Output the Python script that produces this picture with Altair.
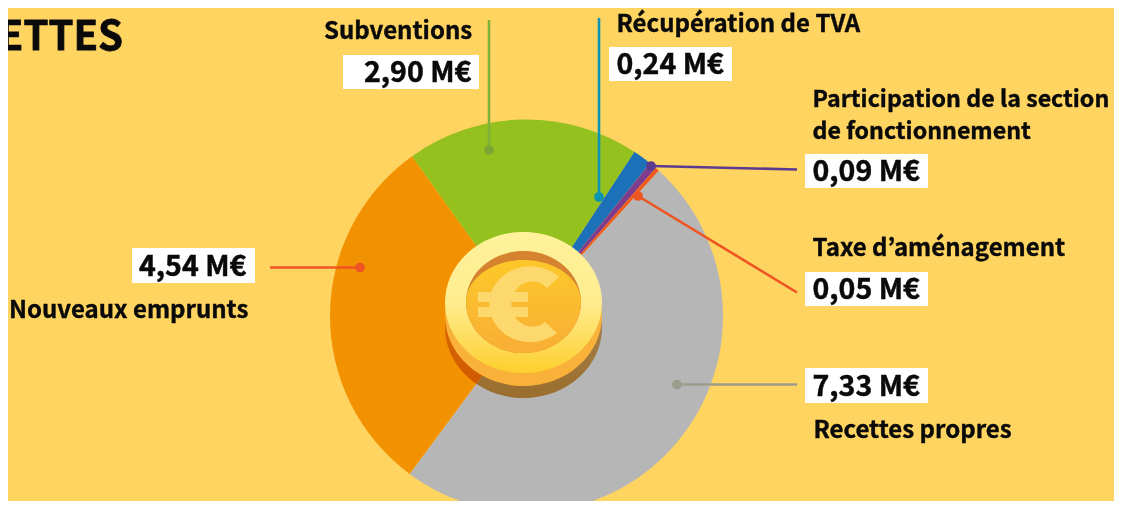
import math
import altair as alt
import pandas as pd

# ---- chart values (M€) ----
categories = ["Récupération de TVA", "Participation", "Taxe d'aménagement", "Recettes propres", "Nouveaux emprunts", "Subventions"]
values = [0.24, 0.09, 0.05, 7.33, 4.54, 2.90]
colors = ["#1D71B8", "#7D3C8E", "#EF5A1E", "#B6B6B6", "#F39200", "#95C11F"]

value_labels = ["2,90 M€", "0,24 M€", "0,09 M€", "0,05 M€", "7,33 M€", "4,54 M€"]
name_labels = ["Subventions", "Récupération de TVA", "Participation de la section", "de fonctionnement",
               "Taxe d’aménagement", "Recettes propres", "Nouveaux emprunts"]

BG = "#FFD461"
FONT = "Noto Sans CJK JP"
OX, OY = 8, 8          # page margin
W, H = 1106, 493
CX, CY, R = 526.5 - OX, 316 - OY, 196.5
START = math.radians(33.3)

pie_df = pd.DataFrame({"cat": categories, "val": values, "idx": range(len(values))})
pie = alt.Chart(pie_df).mark_arc(outerRadius=R, innerRadius=0).encode(
    theta=alt.Theta("val:Q", stack=True, scale=alt.Scale(range=[START, START + 2 * math.pi])),
    order=alt.Order("idx:Q"),
    color=alt.Color("cat:N", scale=alt.Scale(domain=categories, range=colors), legend=None),
    x=alt.value(CX), y=alt.value(CY),
)

# ---- annotation tables (page pixels) ----
boxes = pd.DataFrame({
    "x": [343, 609, 805, 805, 805, 132],
    "x2": [479, 732, 928, 928, 928, 255],
    "y": [55, 47, 154, 272, 368, 248],
    "y2": [89, 81, 188, 306, 403, 283],
})
val_text = pd.DataFrame({
    "t": value_labels,
    "x": [364, 616.5, 812.5, 812.5, 812.5, 139],
    "y": [81.5, 74, 180.5, 298.5, 395.5, 275.5],
})
name_text = pd.DataFrame({
    "t": name_labels,
    "x": [324, 616.5, 812.5, 812.5, 812.5, 813.5, 9],
    "y": [38.5, 31.5, 106.5, 138.5, 255.5, 437.5, 317.5],
    "s": [24, 24, 23.2, 23.2, 24, 24, 24],
})
lines = pd.DataFrame({
    "x": [489, 599, 651, 638, 677, 360],
    "y": [150, 197, 166, 196, 384.5, 267.5],
    "x2": [489, 599, 797, 797, 797, 270],
    "y2": [20, 18, 169.5, 292.5, 384.5, 267.5],
    "c": ["#7FB03A", "#0C94B5", "#5B3A90", "#EE5522", "#9C9C8C", "#EE5522"],
    "d": ["#7DA534", "#0C94B5", "#5B3A90", "#EE5522", "#9C9C8C", "#EE5522"],
})
for df in (boxes, lines):
    df["x"] -= OX; df["x2"] -= OX; df["y"] -= OY; df["y2"] -= OY
for df in (val_text, name_text):
    df["x"] -= OX; df["y"] -= OY

X = lambda f: alt.X(f, scale=None, axis=None)
Y = lambda f: alt.Y(f, scale=None, axis=None)

rects = alt.Chart(boxes).mark_rect(color="white").encode(x=X("x:Q"), x2="x2:Q", y=Y("y:Q"), y2="y2:Q")
rules = alt.Chart(lines).mark_rule(strokeWidth=2.6).encode(
    x=X("x:Q"), x2="x2:Q", y=Y("y:Q"), y2="y2:Q", color=alt.Color("c:N", scale=None))
dots = alt.Chart(lines).mark_circle(size=95, opacity=1).encode(
    x=X("x:Q"), y=Y("y:Q"), color=alt.Color("d:N", scale=None))
vals = alt.Chart(val_text).mark_text(font=FONT, fontWeight="bold", fontSize=28.5, align="left",
                                     baseline="alphabetic", color="#0A0A0A", stroke="#0A0A0A", strokeWidth=0.5).encode(
    x=X("x:Q"), y=Y("y:Q"), text="t:N")
names = alt.Chart(name_text).mark_text(font=FONT, fontWeight="bold", align="left",
                                       baseline="alphabetic", color="#0A0A0A", stroke="#0A0A0A", strokeWidth=0.4).encode(
    x=X("x:Q"), y=Y("y:Q"), text="t:N", size=alt.Size("s:Q", scale=None))
title = alt.Chart(pd.DataFrame({"t": ["ETTES"], "x": [123 - OX], "y": [50 - OY]})).mark_text(
    font=FONT, fontWeight="bold", fontSize=40, align="right", baseline="alphabetic", color="#0A0A0A",
    stroke="#0A0A0A", strokeWidth=0.8).encode(
    x=X("x:Q"), y=Y("y:Q"), text="t:N")

# ---- coin ----
def ellipse(rx, ry):
    return f"M{-rx},0A{rx},{ry},0,1,1,{rx},0A{rx},{ry},0,1,1,{-rx},0Z"

def grad(c1, c2, mid=None):
    stops = [alt.GradientStop(offset=0, color=c1)]
    if mid:
        stops.append(alt.GradientStop(offset=0.5, color=mid))
    stops.append(alt.GradientStop(offset=1, color=c2))
    return alt.LinearGradient(gradient="linear", x1=0, y1=0, x2=0, y2=1, stops=stops)

def coin_part(path, px, py, fill, **kw):
    return alt.Chart(pd.DataFrame({"a": [0]})).mark_point(
        shape=path, size=4, filled=True, opacity=1, fill=fill, strokeWidth=0, **kw
    ).encode(x=alt.value(px - OX), y=alt.value(py - OY))

coin_cx = 523.5
face_path = "M-57.5,0A57.5,42,0,0,1,57.5,0A57.5,51,0,0,1,-57.5,0Z"
euro_path = ("M32,-28A41,38,0,1,0,30,28L18,17A21,22.5,0,1,1,20,-17Z"
             "M-49,-13V-3H1V-13ZM-49,2V12H1V2Z")
coin = [
    coin_part(ellipse(78.5, 70.5), coin_cx, 327.5, grad("#EDC991", "#D9993D"), blend="multiply"),
    coin_part(ellipse(78.5, 70.5), coin_cx, 315.5, "#F9B13A"),
    coin_part(ellipse(78.5, 70.5), coin_cx, 302.5, grad("#FFF29B", "#FDCF2E", "#FFEC8F")),
    coin_part(ellipse(57.5, 51), coin_cx, 302, "#D6832F"),
    coin_part(face_path, coin_cx, 302, grad("#FDC829", "#F8AE36")),
    coin_part(euro_path, 527, 305, "#FDD86C"),
]

chart = alt.layer(pie, rules, dots, *coin, rects, vals, names, title).properties(
    width=W, height=H, background=BG, padding=0,
    autosize=alt.AutoSizeParams(type="none"),
).configure_view(stroke=None)

chart.save("out.html", embed_options={"renderer": "svg", "actions": False})
